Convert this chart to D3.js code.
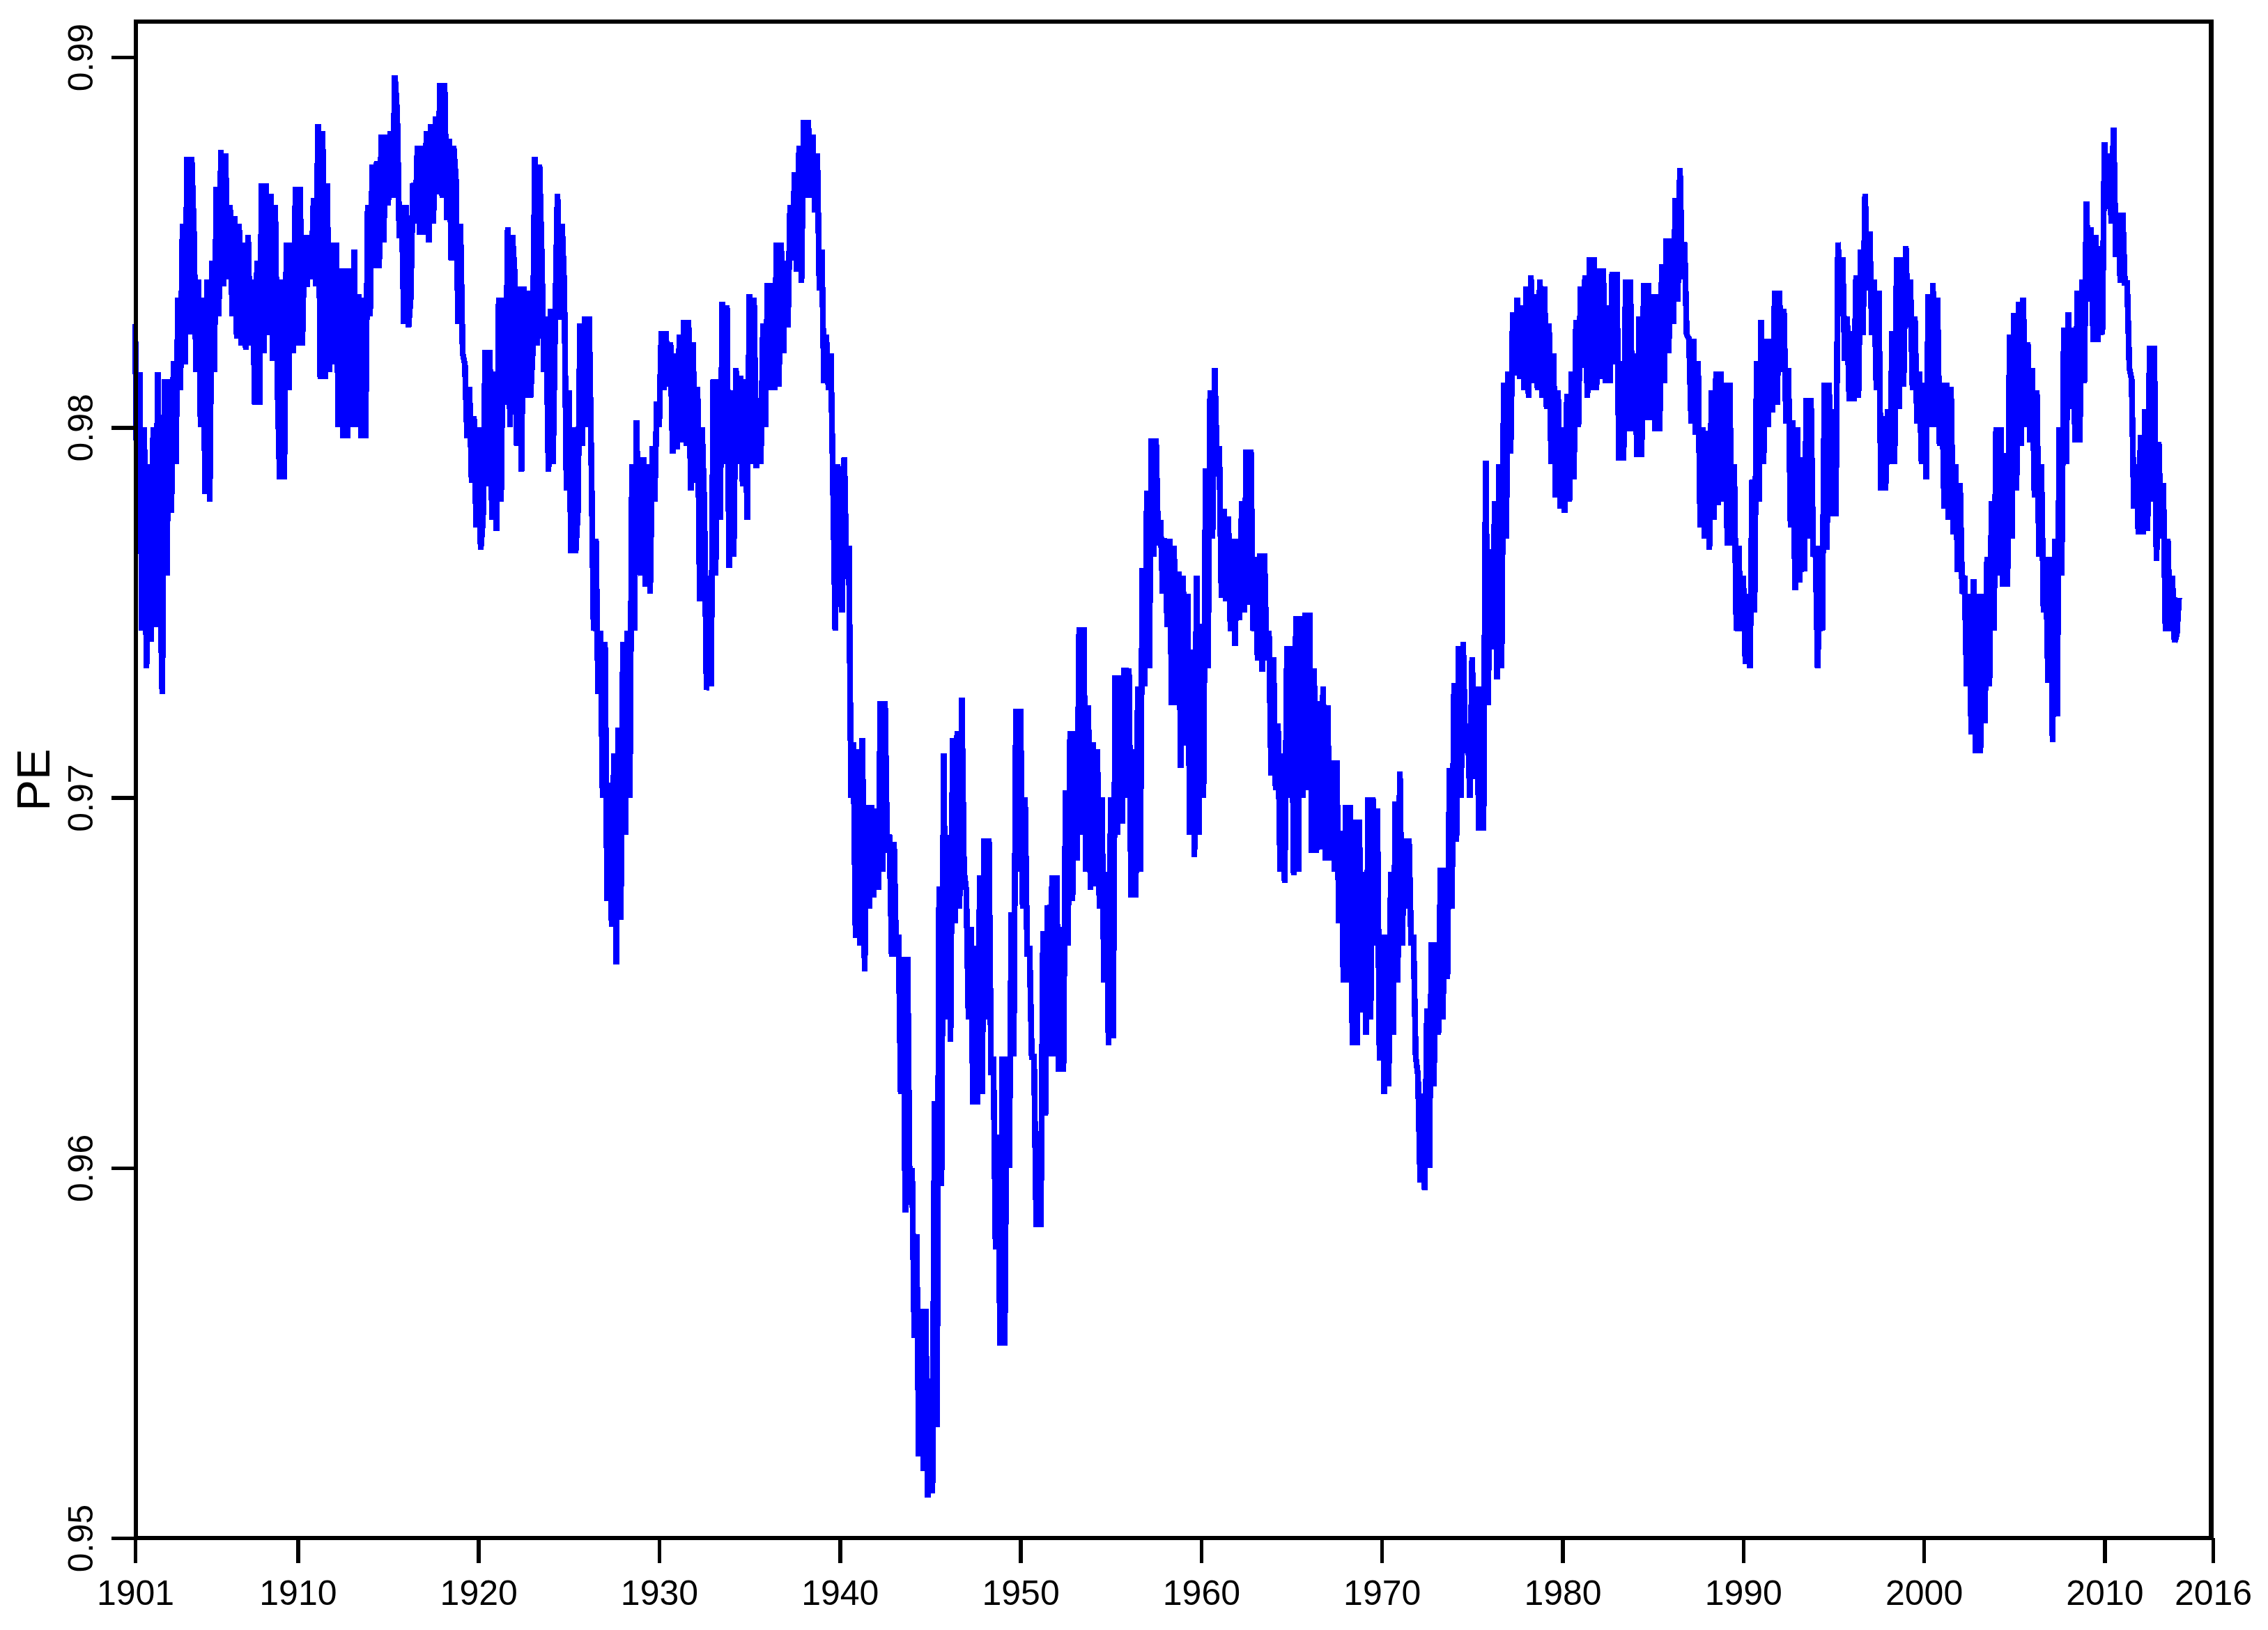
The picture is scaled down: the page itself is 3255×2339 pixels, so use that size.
<!DOCTYPE html>
<html><head><meta charset="utf-8">
<script src="https://cdn.jsdelivr.net/npm/d3@7"></script>
<style>html,body{margin:0;padding:0;background:#fff;} svg{display:block;}</style>
</head><body>
<script>
// ---- data ----
const xTickYears = [1901, 1910, 1920, 1930, 1940, 1950, 1960, 1970, 1980, 1990, 2000, 2010, 2016];
const yTickValues = [0.95, 0.96, 0.97, 0.98, 0.99];
const yTickLabels = ["0.95", "0.96", "0.97", "0.98", "0.99"];
const yAxisTitle = "PE";
const startYear = 1901;
const samplesPerYear = 8;

const pe1901to1920 = [
0.9828,0.9770,0.9815,0.9745,0.9800,0.9735,0.9790,0.9742,
0.9800,0.9746,0.9815,0.9760,0.9728,0.9813,0.9760,0.9813,
0.9777,0.9818,0.9790,0.9835,0.9810,0.9855,0.9817,0.9873,
0.9825,0.9873,0.9853,0.9815,0.9840,0.9800,0.9835,0.9782,
0.9840,0.9780,0.9845,0.9815,0.9865,0.9830,0.9875,0.9838,
0.9874,0.9840,0.9860,0.9830,0.9857,0.9824,0.9855,0.9822,
0.9850,0.9821,0.9852,0.9822,0.9840,0.9806,0.9845,0.9806,
0.9866,0.9820,0.9866,0.9825,0.9863,0.9818,0.9860,0.9812,
0.9786,0.9840,0.9786,0.9850,0.9810,0.9850,0.9820,0.9865,
0.9822,0.9865,0.9822,0.9852,0.9838,0.9852,0.9840,0.9862,
0.9838,0.9882,0.9813,0.9880,0.9813,0.9866,0.9815,0.9850,
0.9817,0.9850,0.9800,0.9843,0.9797,0.9843,0.9797,0.9843,
0.9800,0.9848,0.9800,0.9836,0.9797,0.9835,0.9797,0.9860,
0.9830,0.9871,0.9843,0.9872,0.9843,0.9879,0.9850,0.9879,
0.9860,0.9880,0.9862,0.9895,0.9885,0.9851,0.9860,0.9828,
0.9860,0.9827,0.9835,0.9866,0.9855,0.9876,0.9852,0.9876,
0.9852,0.9880,0.9850,0.9882,0.9855,0.9884,0.9863,0.9893,
0.9862,0.9893,0.9856,0.9878,0.9845,0.9876,0.9867,0.9828,
0.9855,0.9820,0.9817,0.9797,0.9811,0.9785,0.9803,0.9773,
0.9800,0.9767,0.9775,0.9821,0.9784,0.9821,0.9775,0.9815
];
const pe1921to1940 = [
0.9772,0.9835,0.9780,0.9835,0.9806,0.9854,0.9800,0.9852,
0.9842,0.9795,0.9838,0.9788,0.9838,0.9808,0.9837,0.9808,
0.9820,0.9873,0.9822,0.9871,0.9847,0.9815,0.9830,0.9788,
0.9832,0.9790,0.9830,0.9863,0.9829,0.9855,0.9838,0.9783,
0.9810,0.9766,0.9800,0.9766,0.9777,0.9828,0.9795,0.9830,
0.9800,0.9830,0.9790,0.9745,0.9770,0.9728,0.9745,0.9700,
0.9742,0.9672,0.9704,0.9665,0.9712,0.9655,0.9719,0.9667,
0.9742,0.9690,0.9745,0.9700,0.9790,0.9745,0.9802,0.9763,
0.9760,0.9792,0.9757,0.9790,0.9755,0.9795,0.9780,0.9807,
0.9800,0.9826,0.9810,0.9826,0.9811,0.9823,0.9793,0.9820,
0.9794,0.9825,0.9796,0.9829,0.9795,0.9829,0.9783,0.9823,
0.9785,0.9811,0.9753,0.9800,0.9779,0.9729,0.9760,0.9730,
0.9813,0.9760,0.9813,0.9775,0.9834,0.9790,0.9833,0.9762,
0.9810,0.9765,0.9816,0.9790,0.9814,0.9784,0.9813,0.9775,
0.9836,0.9790,0.9835,0.9789,0.9808,0.9790,0.9828,0.9800,
0.9839,0.9810,0.9839,0.9810,0.9850,0.9811,0.9850,0.9820,
0.9845,0.9827,0.9860,0.9845,0.9869,0.9842,0.9876,0.9839,
0.9883,0.9862,0.9883,0.9862,0.9879,0.9858,0.9874,0.9837,
0.9848,0.9812,0.9825,0.9810,0.9820,0.9784,0.9745,0.9790,
0.9782,0.9750,0.9792,0.9759,0.9768,0.9700,0.9715,0.9662
];
const pe1941to1960 = [
0.9713,0.9660,0.9716,0.9653,0.9698,0.9670,0.9698,0.9673,
0.9697,0.9675,0.9726,0.9680,0.9726,0.9685,0.9690,0.9657,
0.9688,0.9657,0.9663,0.9620,0.9657,0.9588,0.9657,0.9590,
0.9600,0.9554,0.9582,0.9522,0.9562,0.9518,0.9562,0.9511,
0.9543,0.9512,0.9618,0.9530,0.9676,0.9595,0.9712,0.9640,
0.9690,0.9634,0.9716,0.9666,0.9718,0.9670,0.9727,0.9680,
0.9675,0.9640,0.9665,0.9617,0.9660,0.9617,0.9679,0.9620,
0.9689,0.9640,0.9689,0.9625,0.9630,0.9578,0.9609,0.9552,
0.9630,0.9552,0.9630,0.9600,0.9669,0.9630,0.9724,0.9680,
0.9724,0.9670,0.9700,0.9657,0.9660,0.9630,0.9630,0.9584,
0.9610,0.9584,0.9664,0.9614,0.9671,0.9630,0.9679,0.9630,
0.9679,0.9626,0.9665,0.9626,0.9702,0.9660,0.9718,0.9672,
0.9718,0.9683,0.9746,0.9690,0.9746,0.9680,0.9725,0.9675,
0.9715,0.9676,0.9713,0.9670,0.9700,0.9650,0.9680,0.9633,
0.9700,0.9635,0.9733,0.9690,0.9733,0.9693,0.9735,0.9700,
0.9735,0.9673,0.9713,0.9673,0.9730,0.9680,0.9762,0.9730,
0.9783,0.9735,0.9797,0.9765,0.9797,0.9768,0.9775,0.9755,
0.9770,0.9746,0.9770,0.9725,0.9768,0.9725,0.9761,0.9708,
0.9760,0.9714,0.9755,0.9690,0.9740,0.9684,0.9760,0.9690,
0.9747,0.9700,0.9789,0.9735,0.9810,0.9770,0.9816,0.9790
];
const pe1961to1980 = [
0.9795,0.9754,0.9778,0.9753,0.9776,0.9745,0.9770,0.9741,
0.9770,0.9748,0.9780,0.9750,0.9794,0.9752,0.9794,0.9745,
0.9765,0.9737,0.9766,0.9734,0.9766,0.9737,0.9745,0.9706,
0.9738,0.9702,0.9720,0.9680,0.9712,0.9677,0.9741,0.9700,
0.9741,0.9679,0.9749,0.9680,0.9749,0.9700,0.9750,0.9702,
0.9750,0.9685,0.9735,0.9685,0.9726,0.9686,0.9730,0.9683,
0.9725,0.9683,0.9710,0.9680,0.9710,0.9666,0.9691,0.9650,
0.9698,0.9650,0.9698,0.9633,0.9694,0.9633,0.9694,0.9642,
0.9680,0.9636,0.9700,0.9640,0.9700,0.9660,0.9697,0.9629,
0.9663,0.9620,0.9663,0.9622,0.9680,0.9636,0.9699,0.9650,
0.9707,0.9660,0.9689,0.9670,0.9689,0.9660,0.9663,0.9630,
0.9625,0.9596,0.9620,0.9594,0.9643,0.9600,0.9661,0.9622,
0.9661,0.9636,0.9681,0.9640,0.9681,0.9651,0.9708,0.9670,
0.9731,0.9688,0.9741,0.9700,0.9742,0.9712,0.9720,0.9700,
0.9738,0.9705,0.9730,0.9691,0.9730,0.9691,0.9791,0.9725,
0.9767,0.9740,0.9780,0.9732,0.9790,0.9735,0.9812,0.9770,
0.9815,0.9793,0.9831,0.9814,0.9835,0.9813,0.9833,0.9810,
0.9838,0.9808,0.9841,0.9812,0.9836,0.9810,0.9840,0.9808,
0.9838,0.9805,0.9828,0.9790,0.9820,0.9781,0.9810,0.9778,
0.9800,0.9777,0.9809,0.9780,0.9815,0.9786,0.9829,0.9800
];
const pe1981to2000 = [
0.9838,0.9816,0.9841,0.9808,0.9846,0.9810,0.9846,0.9810,
0.9843,0.9813,0.9843,0.9812,0.9833,0.9812,0.9842,0.9817,
0.9842,0.9791,0.9818,0.9791,0.9840,0.9799,0.9840,0.9799,
0.9820,0.9792,0.9830,0.9792,0.9839,0.9802,0.9839,0.9802,
0.9836,0.9799,0.9836,0.9799,0.9844,0.9812,0.9851,0.9820,
0.9851,0.9828,0.9862,0.9834,0.9870,0.9840,0.9850,0.9825,
0.9824,0.9801,0.9824,0.9798,0.9818,0.9773,0.9800,0.9770,
0.9799,0.9767,0.9810,0.9775,0.9815,0.9779,0.9815,0.9780,
0.9812,0.9768,0.9812,0.9768,0.9790,0.9745,0.9768,0.9745,
0.9760,0.9736,0.9755,0.9735,0.9786,0.9750,0.9818,0.9780,
0.9829,0.9790,0.9824,0.9800,0.9824,0.9804,0.9837,0.9806,
0.9837,0.9815,0.9832,0.9801,0.9816,0.9773,0.9802,0.9756,
0.9800,0.9758,0.9792,0.9761,0.9808,0.9770,0.9808,0.9765,
0.9768,0.9735,0.9768,0.9745,0.9812,0.9767,0.9812,0.9776,
0.9805,0.9776,0.9850,0.9830,0.9846,0.9818,0.9830,0.9807,
0.9826,0.9807,0.9841,0.9808,0.9848,0.9825,0.9863,0.9837,
0.9853,0.9825,0.9840,0.9810,0.9837,0.9783,0.9803,0.9783,
0.9805,0.9790,0.9826,0.9790,0.9846,0.9805,0.9846,0.9811,
0.9849,0.9827,0.9840,0.9810,0.9830,0.9801,0.9815,0.9790,
0.9812,0.9786,0.9836,0.9800,0.9839,0.9800,0.9835,0.9795
];
const pe2001to2014 = [
0.9812,0.9778,0.9812,0.9775,0.9811,0.9771,0.9790,0.9761,
0.9785,0.9755,0.9760,0.9730,0.9755,0.9717,0.9759,0.9712,
0.9755,0.9712,0.9755,0.9720,0.9765,0.9730,0.9780,0.9745,
0.9800,0.9760,0.9800,0.9757,0.9793,0.9757,0.9825,0.9770,
0.9831,0.9783,0.9834,0.9795,0.9835,0.9800,0.9823,0.9796,
0.9816,0.9781,0.9810,0.9765,0.9790,0.9750,0.9765,0.9731,
0.9765,0.9715,0.9770,0.9722,0.9800,0.9760,0.9827,0.9790,
0.9831,0.9805,0.9827,0.9796,0.9837,0.9796,0.9840,0.9812,
0.9861,0.9834,0.9854,0.9823,0.9852,0.9823,0.9849,0.9825,
0.9877,0.9859,0.9874,0.9855,0.9881,0.9846,0.9858,0.9839,
0.9858,0.9839,0.9839,0.9816,0.9813,0.9778,0.9790,0.9771,
0.9798,0.9771,0.9805,0.9772,0.9822,0.9780,0.9822,0.9764,
0.9796,0.9770,0.9785,0.9745,0.9770,0.9745,0.9760,0.9742,
0.9744,0.9754
];

const peValues = [].concat(pe1901to1920, pe1921to1940, pe1941to1960,
                           pe1961to1980, pe1981to2000, pe2001to2014);
const series = peValues.map((v, i) => ({ t: startYear + i / samplesPerYear, v: v }));

// ---- drawing ----
const W = 3255, H = 2339;
const FONT = "'Liberation Sans', Arial, Helvetica, sans-serif";
const svg = d3.select("body").append("svg").attr("width", W).attr("height", H);
svg.append("rect").attr("width", W).attr("height", H).attr("fill", "#ffffff");

const x = d3.scaleLinear().domain([1901, 2016]).range([194, 3176]);
const y = d3.scaleLinear().domain([0.95, 0.99]).range([2207, 82]);

const line = d3.line().x(d => x(d.t)).y(d => y(d.v));
svg.append("path")
  .datum(series)
  .attr("d", line)
  .attr("fill", "none")
  .attr("stroke", "#0000ff")
  .attr("stroke-width", 8.5)
  .attr("stroke-linejoin", "miter")
  .attr("stroke-miterlimit", 4)
  .attr("shape-rendering", "crispEdges");

// frame box
svg.append("rect")
  .attr("x", 195).attr("y", 31)
  .attr("width", 3173.5 - 195).attr("height", 2207 - 31)
  .attr("fill", "none").attr("stroke", "#000").attr("stroke-width", 6.5)
  .attr("shape-rendering", "crispEdges");

// x axis
const gx = svg.append("g").attr("transform", "translate(0,2207)")
  .call(d3.axisBottom(x).tickValues(xTickYears).tickFormat(d3.format("d"))
        .tickSize(36).tickSizeOuter(0));
gx.select(".domain").remove();
gx.selectAll(".tick line").attr("stroke", "#000").attr("stroke-width", 5.5)
  .attr("shape-rendering", "crispEdges");
gx.selectAll(".tick text")
  .attr("y", 96).attr("dy", 0)
  .attr("fill", "#000")
  .style("font-family", FONT).style("font-size", "50px");

// y axis
const gy = svg.append("g").attr("transform", "translate(195,0)")
  .call(d3.axisLeft(y).tickValues(yTickValues).tickFormat((d, i) => yTickLabels[i])
        .tickSize(35).tickSizeOuter(0));
gy.select(".domain").remove();
gy.selectAll(".tick line").attr("stroke", "#000").attr("stroke-width", 5.5)
  .attr("shape-rendering", "crispEdges");
gy.selectAll(".tick text")
  .attr("x", 0).attr("y", -62).attr("dy", 0)
  .attr("transform", "rotate(-90)")
  .attr("text-anchor", "middle")
  .attr("fill", "#000")
  .style("font-family", FONT).style("font-size", "50px");

// y title
svg.append("text")
  .attr("transform", "translate(71,1119) rotate(-90)")
  .attr("text-anchor", "middle")
  .attr("fill", "#000")
  .style("font-family", FONT).style("font-size", "67px")
  .text(yAxisTitle);
</script>
</body></html>
